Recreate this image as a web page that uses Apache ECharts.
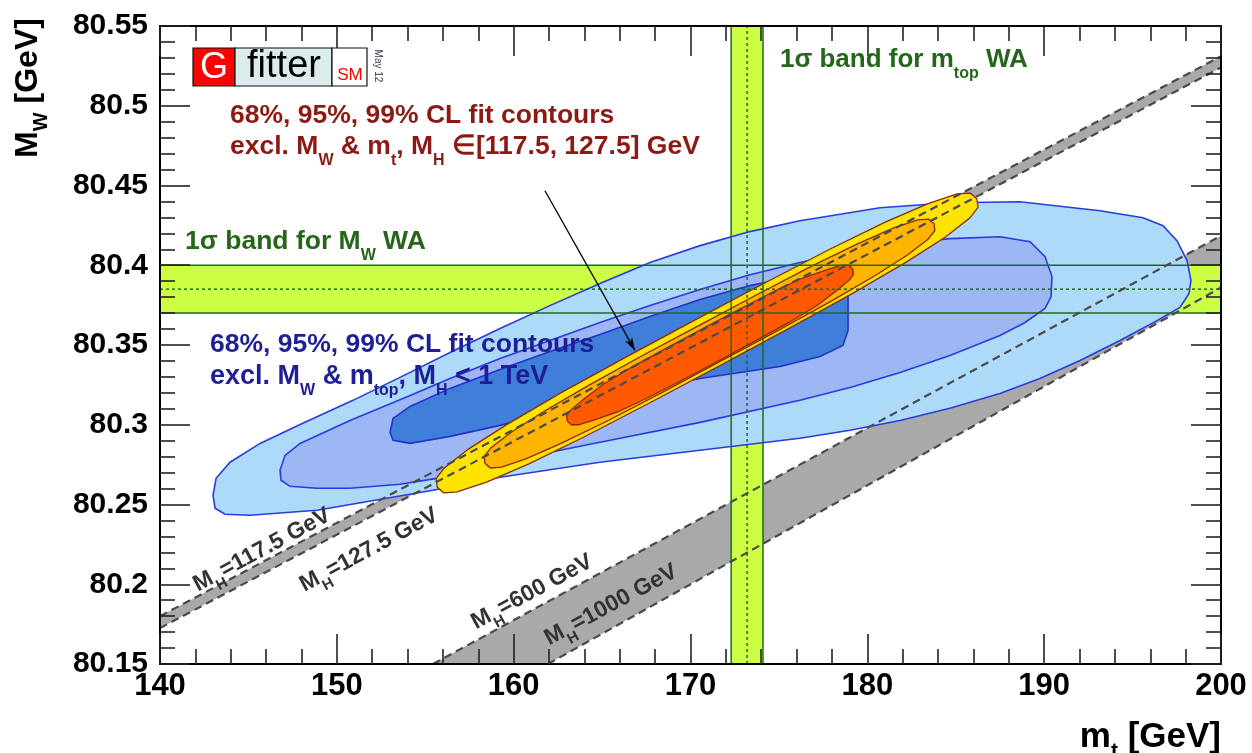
<!DOCTYPE html>
<html>
<head>
<meta charset="utf-8">
<script src="https://cdn.jsdelivr.net/npm/echarts@6.0.0/dist/echarts.min.js"></script>
<style>html,body{margin:0;padding:0;background:#fff;}#chart{width:1252px;height:753px;}</style>
</head>
<body>
<div id="chart"></div>
<script>
// ---------------- axis ticks ----------------
const xTickValues = [140, 150, 160, 170, 180, 190, 200];
const yTickLabels = ['80.15', '80.2', '80.25', '80.3', '80.35', '80.4', '80.45', '80.5', '80.55'];

// ---------------- theory bands (m_t [GeV], M_W [GeV]) ----------------
const mh1175Line = [[140, 80.1800], [200, 80.5310]];
const mh1275Line = [[140, 80.1725], [200, 80.5240]];
const mh600Line  = [[155.44, 80.1500], [200, 80.4185]];
const mh1000Line = [[161.94, 80.1500], [200, 80.3860]];

// ---------------- world averages ----------------
const mtopBand = [172.30, 174.10];
const mtopCentral = [173.20];
const mwBand = [80.370, 80.400];
const mwCentral = [80.385];

// ---------------- fit contours, excl. MW & mtop, MH < 1 TeV ----------------
const blue99 = [[143.00,80.2558],[143.17,80.2664],[143.96,80.2765],[145.66,80.2883],[147.92,80.3002],[150.91,80.3153],[153.57,80.3297],[156.40,80.3453],[159.23,80.3603],[162.05,80.3747],[164.88,80.3885],[167.71,80.4017],[170.54,80.4123],[173.36,80.4211],[176.19,80.4279],[180.72,80.4361],[184.67,80.4392],[188.63,80.4398],[193.16,80.4342],[195.59,80.4298],[196.72,80.4248],[197.51,80.4154],[198.08,80.4029],[198.30,80.3904],[198.19,80.3822],[197.68,80.3735],[196.38,80.3653],[194.29,80.3528],[192.03,80.3403],[189.76,80.3290],[187.50,80.3196],[184.67,80.3103],[181.85,80.3027],[179.02,80.2965],[176.19,80.2915],[170.54,80.2840],[164.88,80.2765],[159.23,80.2671],[155.44,80.2589],[148.88,80.2464],[145.09,80.2433],[143.68,80.2439],[143.11,80.2477]];
const blue95 = [[146.79,80.2714],[147.07,80.2808],[147.92,80.2883],[150.74,80.3027],[153.74,80.3165],[156.40,80.3290],[159.23,80.3416],[162.05,80.3528],[164.88,80.3641],[167.71,80.3747],[170.54,80.3848],[173.36,80.3941],[176.19,80.4017],[179.02,80.4085],[181.85,80.4135],[184.67,80.4167],[187.50,80.4179],[189.20,80.4148],[190.05,80.4054],[190.44,80.3929],[190.39,80.3804],[190.05,80.3729],[188.92,80.3641],[187.50,80.3560],[184.67,80.3434],[181.85,80.3328],[179.02,80.3234],[176.19,80.3153],[170.54,80.3015],[164.88,80.2890],[159.23,80.2765],[155.66,80.2664],[153.57,80.2627],[150.74,80.2602],[148.88,80.2602],[147.35,80.2614],[146.84,80.2652]];
const blue68 = [[153.01,80.2952],[153.18,80.3040],[154.14,80.3115],[156.40,80.3228],[159.23,80.3347],[162.05,80.3459],[164.88,80.3566],[167.71,80.3678],[170.54,80.3785],[173.36,80.3873],[176.19,80.3935],[177.88,80.3948],[178.68,80.3916],[178.91,80.3841],[178.91,80.3591],[178.62,80.3497],[177.32,80.3428],[175.06,80.3365],[170.54,80.3290],[167.71,80.3228],[164.88,80.3165],[162.05,80.3078],[159.23,80.2996],[156.40,80.2927],[154.14,80.2883],[153.18,80.2902]];

// ---------------- fit contours, excl. MW & mt, MH in [117.5,127.5] ----------------
const yellow99 = [[155.68,80.2609],[155.61,80.2662],[156.08,80.2729],[157.46,80.2849],[159.65,80.3004],[162.64,80.3198],[166.43,80.3429],[170.24,80.3656],[174.06,80.3881],[177.90,80.4102],[181.01,80.4270],[183.40,80.4385],[185.07,80.4447],[185.83,80.4452],[186.19,80.4417],[186.26,80.4363],[185.79,80.4296],[184.40,80.4176],[182.22,80.4021],[179.22,80.3827],[175.43,80.3596],[171.63,80.3369],[167.81,80.3144],[163.97,80.2923],[160.86,80.2755],[158.47,80.2640],[156.80,80.2579],[156.04,80.2573]];
const orange95 = [[158.38,80.2758],[158.33,80.2801],[158.72,80.2856],[159.88,80.2955],[161.70,80.3083],[164.19,80.3244],[167.34,80.3437],[170.52,80.3625],[173.69,80.3812],[176.88,80.3996],[179.47,80.4136],[181.46,80.4233],[182.84,80.4284],[183.47,80.4289],[183.77,80.4261],[183.82,80.4218],[183.43,80.4163],[182.27,80.4064],[180.45,80.3936],[177.96,80.3775],[174.81,80.3582],[171.63,80.3394],[168.46,80.3206],[165.27,80.3022],[162.68,80.2883],[160.69,80.2786],[159.31,80.2734],[158.68,80.2729]];
const red68 = [[163.04,80.3022],[162.99,80.3055],[163.22,80.3092],[163.94,80.3158],[165.05,80.3252],[166.61,80.3357],[168.62,80.3479],[170.62,80.3599],[172.64,80.3718],[174.68,80.3834],[176.33,80.3920],[177.65,80.3970],[178.53,80.4000],[178.95,80.4000],[179.17,80.3978],[179.22,80.3945],[178.99,80.3908],[178.27,80.3842],[177.16,80.3748],[175.59,80.3643],[173.59,80.3521],[171.59,80.3401],[169.56,80.3282],[167.53,80.3166],[165.87,80.3080],[164.56,80.3031],[163.67,80.3000],[163.26,80.3000]];

// ---------------- annotation arrow ----------------
const arrowPts = [[161.77, 80.4467], [166.86, 80.3466]];

// =======================================================
const xMin = xTickValues[0], xMax = xTickValues[xTickValues.length - 1];
const yMin = +yTickLabels[0], yMax = +yTickLabels[yTickLabels.length - 1];
const SANS = "'Liberation Sans', Arial, Helvetica, sans-serif";

function poly(name, pts, fill, stroke, lw, z) {
  return {
    type: 'custom', name, data: pts, z, silent: true, animation: false, clip: true,
    encode: { x: 0, y: 1 },
    renderItem: function (params, api) {
      if (params.dataIndex !== 0) return null;
      return {
        type: 'polygon',
        shape: { points: pts.map(p => api.coord(p)) },
        style: { fill: fill, stroke: stroke, lineWidth: lw }
      };
    }
  };
}
function seg(name, pts, color, width, type, z) {
  return {
    type: 'line', name, data: pts, symbol: 'none', silent: true, animation: false, clip: true, z,
    lineStyle: { color, width, type }
  };
}

const greyBandLow = mh1175Line.concat(mh1275Line.slice().reverse());
const greyBandHigh = mh600Line.concat(mh1000Line.slice().reverse());
const vBand = [[mtopBand[0], yMin], [mtopBand[1], yMin], [mtopBand[1], yMax], [mtopBand[0], yMax]];
const hBand = [[xMin, mwBand[0]], [xMax, mwBand[0]], [xMax, mwBand[1]], [xMin, mwBand[1]]];

const DGREEN = '#1f6a1f';
const BLUE_LINE = '#2b3bdc', BROWN = '#8a2a08';
const DASH = [8, 5];

const series = [
  poly('MH 117.5-127.5', greyBandLow, '#a9a9a9', null, 0, 1),
  poly('MH 600-1000', greyBandHigh, '#a9a9a9', null, 0, 1),
  poly('mtop band', vBand, '#ccff44', null, 0, 1),
  poly('MW band', hBand, '#ccff44', null, 0, 1),
  poly('99% CL', blue99, '#acdaf8', BLUE_LINE, 1.6, 2),
  poly('95% CL', blue95, '#9db6f4', BLUE_LINE, 1.6, 2),
  poly('68% CL', blue68, '#3f7fda', '#2233c8', 1.6, 2),
  poly('99% CL MH', yellow99, '#ffe400', BROWN, 1.3, 2),
  poly('95% CL MH', orange95, '#ffb400', BROWN, 1.3, 2),
  poly('68% CL MH', red68, '#ff5a00', BROWN, 1.3, 2),
  seg('mtop lo', [[mtopBand[0], yMin], [mtopBand[0], yMax]], DGREEN, 1.5, 'solid', 3),
  seg('mtop hi', [[mtopBand[1], yMin], [mtopBand[1], yMax]], DGREEN, 1.5, 'solid', 3),
  seg('mtop c', [[mtopCentral[0], yMin], [mtopCentral[0], yMax]], DGREEN, 1.5, [3, 3], 3),
  seg('mw lo', [[xMin, mwBand[0]], [xMax, mwBand[0]]], DGREEN, 1.5, 'solid', 3),
  seg('mw hi', [[xMin, mwBand[1]], [xMax, mwBand[1]]], DGREEN, 1.5, 'solid', 3),
  seg('mw c', [[xMin, mwCentral[0]], [xMax, mwCentral[0]]], DGREEN, 1.5, [3, 3], 3),
  seg('MH=117.5', mh1175Line, '#4a4a4a', 2.2, DASH, 4),
  seg('MH=127.5', mh1275Line, '#4a4a4a', 2.2, DASH, 4),
  seg('MH=600', mh600Line, '#4a4a4a', 2.2, DASH, 4),
  seg('MH=1000', mh1000Line, '#4a4a4a', 2.2, DASH, 4),
  {
    type: 'line', name: 'arrow', data: [], z: 5, silent: true, animation: false,
    markLine: {
      silent: true, animation: false, symbol: ['none', 'arrow'], symbolSize: [6, 13],
      label: { show: false },
      lineStyle: { color: '#000', width: 1.3, type: 'solid' },
      emphasis: { disabled: true },
      data: [[{ coord: arrowPts[0] }, { coord: arrowPts[1] }]]
    }
  }
];

function rtext(x, y, str, color, size, subSize, subPad, extra, align) {
  align = align || 'left';
  return Object.assign({
    type: 'text', x, y, z: 100, silent: true,
    style: {
      text: str, fill: color,
      font: 'bold ' + size + 'px ' + SANS,
      align: align, verticalAlign: 'middle', textAlign: align, textVerticalAlign: 'middle',
      rich: {
        a: { font: 'bold ' + size + 'px ' + SANS, fill: color },
        s: { font: 'bold ' + subSize + 'px ' + SANS, fill: color, padding: [subPad, 0, 0, 0] }
      }
    }
  }, extra || {});
}
function ctext(x, y, str, font, color, extra) {
  return Object.assign({
    type: 'text', x, y, z: 101, silent: true,
    style: { text: str, font, fill: color, align: 'center', verticalAlign: 'middle', textAlign: 'center', textVerticalAlign: 'middle' }
  }, extra || {});
}

const RED_T = '#8b1a14', BLUE_T = '#1e1e96', GREEN_T = '#25661a', GREY_T = '#333333';
const ang = 28.4 * Math.PI / 180;

const graphics = [
  // logo
  { type: 'rect', z: 100, silent: true, shape: { x: 193, y: 48, width: 42, height: 38 }, style: { fill: '#ff0000', stroke: '#111', lineWidth: 1.2 } },
  { type: 'rect', z: 100, silent: true, shape: { x: 235, y: 48, width: 97, height: 38 }, style: { fill: '#dcebeb', stroke: '#111', lineWidth: 1.2 } },
  { type: 'rect', z: 100, silent: true, shape: { x: 332, y: 48, width: 35, height: 38 }, style: { fill: '#ffffff', stroke: '#111', lineWidth: 1.2 } },
  ctext(214, 68, 'G', '36px ' + SANS, '#ffffff'),
  ctext(284, 67, 'fitter', '38px ' + SANS, '#000000'),
  ctext(350, 75, 'SM', '17px ' + SANS, '#ff0000'),
  ctext(378, 66, 'May 12', '10px ' + SANS, '#3a3a4a', { rotation: -Math.PI / 2 }),
  // red annotation
  rtext(230, 116, '{a|68%, 95%, 99% CL fit contours}', RED_T, 26.5, 16, 28),
  rtext(230, 147, '{a|excl. M}{s|W}{a| & m}{s|t}{a|, M}{s|H}{a| ∈[117.5, 127.5] GeV}', RED_T, 26.5, 16, 28),
  // green annotations
  rtext(780, 60, '{a|1σ band for m}{s|top}{a| WA}', GREEN_T, 26, 16, 28),
  rtext(185, 242, '{a|1σ band for M}{s|W}{a| WA}', GREEN_T, 26.5, 16, 28),
  // blue annotation
  rtext(210, 345, '{a|68%, 95%, 99% CL fit contours}', BLUE_T, 26.5, 16, 28),
  rtext(210, 377, '{a|excl. M}{s|W}{a| & m}{s|top}{a|, M}{s|H}{a| < 1 TeV}', BLUE_T, 27, 16, 28),
  // MH labels
  rtext(262, 550, '{a|M}{s|H}{a|=117.5 GeV}', GREY_T, 23, 15, 22, { rotation: ang }, 'center'),
  rtext(369, 550, '{a|M}{s|H}{a|=127.5 GeV}', GREY_T, 23, 15, 22, { rotation: ang }, 'center'),
  rtext(532, 592, '{a|M}{s|H}{a|=600 GeV}', GREY_T, 23, 15, 22, { rotation: ang }, 'center'),
  rtext(611, 605, '{a|M}{s|H}{a|=1000 GeV}', GREY_T, 23, 15, 22, { rotation: ang }, 'center'),
  // axis titles
  rtext(1221, 737, '{a|m}{s|t}{a| [GeV]}', '#000', 35, 21, 28, {}, 'right'),
  rtext(28, 88, '{a|M}{s|W}{a| [GeV]}', '#000', 32, 20, 26, { rotation: Math.PI / 2 }, 'center')
];

const axisCommon = {
  type: 'value', z: 10,
  axisLine: { show: true, onZero: false, lineStyle: { color: '#000', width: 2 } },
  axisTick: { show: true, inside: true, length: 30, lineStyle: { color: '#222', width: 1.6 } },
  minorTick: { show: true, splitNumber: 5, length: 15, lineStyle: { color: '#222', width: 1.6 } },
  splitLine: { show: false }, minorSplitLine: { show: false }
};

const option = {
  animation: false,
  backgroundColor: '#ffffff',
  grid: { left: 160, right: 31, top: 26, bottom: 89, containLabel: false },
  xAxis: [
    Object.assign({}, axisCommon, {
      position: 'bottom', min: xMin, max: xMax, interval: xTickValues[1] - xTickValues[0],
      axisLabel: { show: true, margin: 7, color: '#000', fontSize: 31, fontWeight: 'bold', fontFamily: SANS }
    }),
    Object.assign({}, axisCommon, {
      position: 'top', min: xMin, max: xMax, interval: xTickValues[1] - xTickValues[0],
      axisLabel: { show: false }
    })
  ],
  yAxis: [
    Object.assign({}, axisCommon, {
      position: 'left', min: yMin, max: yMax, interval: 0.05,
      axisLabel: {
        show: true, margin: 12, color: '#000', fontSize: 30, fontWeight: 'bold', fontFamily: SANS,
        formatter: v => { const i = yTickLabels.findIndex(t => Math.abs(+t - v) < 1e-6); return i >= 0 ? yTickLabels[i] : ''; }
      }
    }),
    Object.assign({}, axisCommon, {
      position: 'right', min: yMin, max: yMax, interval: 0.05,
      axisLabel: { show: false }
    })
  ],
  series: series,
  graphic: { elements: graphics }
};

const chart = echarts.init(document.getElementById('chart'), null, { renderer: 'canvas' });
chart.setOption(option);
</script>
</body>
</html>
